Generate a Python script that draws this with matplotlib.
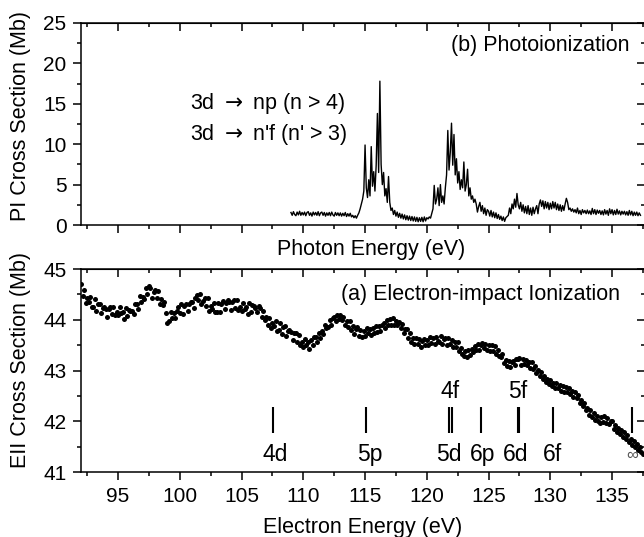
import matplotlib.pyplot as plt
import numpy as np
from matplotlib.ticker import MultipleLocator

plt.rcParams['font.family'] = ['Liberation Sans', 'DejaVu Sans']

# photoionization cross section (Mb), 0.1 eV steps from 109.0 eV
pi_start = 109.0
pi_step = 0.1
pi_values = [
    1.55, 1.20, 1.65, 1.30, 1.15, 1.60, 1.25, 1.70, 1.20, 1.55,  # 109
    1.25, 1.60, 1.15, 1.55, 1.65, 1.20, 1.50, 1.10, 1.60, 1.25,  # 110
    1.55, 1.20, 1.65, 1.15, 1.50, 1.60, 1.20, 1.55, 1.10, 1.50,  # 111
    1.20, 1.55, 1.15, 1.60, 1.25, 1.10, 1.55, 1.20, 1.50, 1.15,  # 112
    1.50, 1.10, 1.45, 1.15, 1.55, 1.05, 1.40, 1.10, 1.45, 1.00,  # 113
    1.20, 0.90, 1.15, 0.85, 1.20, 1.50, 2.00, 2.60, 3.20, 4.20,  # 114
    9.90, 4.60, 3.40, 5.60, 3.60, 9.70, 4.80, 6.60, 4.20, 7.40,  # 115
    13.80, 6.50, 17.80, 7.50, 5.00, 6.50, 3.60, 4.50, 2.80, 6.00,  # 116
    2.80, 1.80, 2.10, 1.30, 1.80, 1.10, 1.60, 0.95, 1.45, 0.85,  # 117
    1.35, 0.75, 1.25, 0.65, 1.15, 0.60, 1.10, 0.55, 1.05, 0.50,  # 118
    1.00, 0.45, 0.95, 0.40, 0.90, 0.45, 0.95, 0.40, 1.00, 0.50,  # 119
    0.90, 0.75, 1.00, 0.85, 1.40, 2.00, 4.90, 2.60, 3.20, 4.60,  # 120
    2.40, 5.00, 2.80, 3.60, 2.60, 4.60, 6.20, 11.70, 6.80, 9.00,  # 121
    12.60, 7.40, 11.20, 6.20, 8.20, 5.20, 6.60, 4.40, 5.60, 4.60,  # 122
    7.80, 4.20, 5.00, 6.90, 3.60, 4.60, 3.20, 3.60, 2.80, 3.20,  # 123
    2.60, 1.60, 2.30, 2.80, 1.70, 2.40, 1.40, 2.10, 1.20, 1.90,  # 124
    1.70, 1.10, 1.80, 1.00, 1.60, 0.90, 1.50, 0.80, 1.30, 0.70,  # 125
    1.10, 0.55, 1.00, 0.45, 0.90, 1.05, 1.20, 2.10, 1.40, 2.60,  # 126
    2.00, 3.20, 2.20, 3.90, 2.50, 2.00, 2.80, 1.70, 2.50, 1.50,  # 127
    2.30, 1.40, 2.40, 1.30, 2.10, 1.20, 2.20, 1.40, 2.00, 2.40,  # 128
    1.40, 2.60, 3.10, 2.30, 3.00, 2.00, 2.90, 2.10, 2.80, 1.90,  # 129
    2.70, 2.00, 2.90, 2.10, 2.80, 1.90, 2.60, 1.80, 2.50, 1.70,  # 130
    2.40, 1.80, 2.60, 3.30, 2.80, 1.90, 2.10, 1.70, 2.00, 1.60,  # 131
    1.90, 1.50, 2.10, 1.40, 1.80, 1.30, 1.90, 1.50, 1.80, 1.40,  # 132
    1.85, 1.40, 1.75, 1.30, 2.05, 1.40, 1.90, 1.30, 1.85, 1.45,  # 133
    1.80, 1.30, 1.75, 1.25, 1.90, 1.35, 1.80, 1.20, 2.00, 1.40,  # 134
    1.90, 1.25, 1.80, 1.30, 1.95, 1.35, 1.75, 1.25, 1.70, 1.35,  # 135
    1.70, 1.25, 1.65, 1.20, 1.80, 1.25, 1.70, 1.15, 1.60, 1.20,  # 136
    1.60, 1.15, 1.50, 1.20,                                      # 137
]

# electron-impact ionization cross section (Mb), 1/8 eV steps from 92.0 eV
eii_start = 92.0
eii_step = 0.125
eii_values = [
    44.70, 44.46, 44.59, 44.34, 44.43, 44.36, 44.45, 44.26,  # 92
    44.26, 44.40, 44.17, 44.31, 44.32, 44.14, 44.23, 44.26,  # 93
    44.21, 44.05, 44.22, 44.25, 44.11, 44.26, 44.09, 44.16,  # 94
    44.09, 44.25, 44.13, 44.16, 44.02, 44.24, 44.07, 44.20,  # 95
    44.18, 44.18, 44.11, 44.31, 44.32, 44.21, 44.46, 44.35,  # 96
    44.45, 44.41, 44.63, 44.51, 44.67, 44.62, 44.42, 44.55,  # 97
    44.58, 44.42, 44.56, 44.31, 44.41, 44.30, 44.36, 44.13,  # 98
    43.94, 43.98, 44.15, 44.04, 44.13, 44.03, 44.17, 44.26,  # 99
    44.14, 44.31, 44.11, 44.28, 44.32, 44.18, 44.31, 44.36,  # 100
    44.35, 44.23, 44.43, 44.49, 44.38, 44.51, 44.32, 44.37,  # 101
    44.43, 44.27, 44.42, 44.17, 44.28, 44.22, 44.33, 44.15,  # 102
    44.16, 44.34, 44.15, 44.32, 44.37, 44.22, 44.33, 44.38,  # 103
    44.35, 44.19, 44.36, 44.38, 44.24, 44.38, 44.20, 44.26,  # 104
    44.17, 44.33, 44.22, 44.26, 44.12, 44.34, 44.16, 44.29,  # 105
    44.27, 44.24, 44.15, 44.27, 44.23, 44.06, 44.18, 43.99,  # 106
    44.06, 43.90, 44.04, 43.83, 43.93, 43.87, 43.97, 43.78,  # 107
    43.79, 43.93, 43.72, 43.86, 43.88, 43.69, 43.78, 43.80,  # 108
    43.75, 43.60, 43.73, 43.74, 43.57, 43.70, 43.50, 43.57,  # 109
    43.47, 43.63, 43.51, 43.56, 43.42, 43.60, 43.50, 43.66,  # 110
    43.66, 43.57, 43.74, 43.64, 43.77, 43.71, 43.89, 43.83,  # 111
    43.85, 43.99, 43.90, 44.04, 44.05, 43.98, 44.10, 44.01,  # 112
    44.10, 44.00, 44.06, 43.90, 43.98, 43.86, 43.97, 43.80,  # 113
    43.88, 43.72, 43.81, 43.85, 43.69, 43.80, 43.66, 43.78,  # 114
    43.69, 43.84, 43.73, 43.82, 43.70, 43.84, 43.74, 43.87,  # 115
    43.75, 43.88, 43.78, 43.89, 43.93, 43.84, 44.00, 43.90,  # 116
    44.01, 43.90, 44.03, 43.89, 43.98, 43.90, 43.96, 43.83,  # 117
    43.91, 43.73, 43.82, 43.82, 43.64, 43.73, 43.56, 43.65,  # 118
    43.52, 43.65, 43.52, 43.62, 43.47, 43.59, 43.63, 43.51,  # 119
    43.61, 43.50, 43.66, 43.55, 43.64, 43.52, 43.66, 43.58,  # 120
    43.56, 43.68, 43.53, 43.63, 43.64, 43.51, 43.65, 43.52,  # 121
    43.61, 43.47, 43.56, 43.46, 43.56, 43.39, 43.45, 43.32,  # 122
    43.29, 43.39, 43.27, 43.41, 43.31, 43.43, 43.36, 43.48,  # 123
    43.41, 43.52, 43.40, 43.51, 43.54, 43.44, 43.53, 43.41,  # 124
    43.50, 43.39, 43.50, 43.39, 43.48, 43.33, 43.40, 43.29,  # 125
    43.26, 43.32, 43.15, 43.21, 43.08, 43.18, 43.06, 43.16,  # 126
    43.18, 43.10, 43.23, 43.23, 43.24, 43.11, 43.23, 43.12,  # 127
    43.21, 43.10, 43.17, 43.05, 43.16, 43.03, 43.08, 42.95,  # 128
    43.02, 42.89, 42.97, 42.84, 42.89, 42.77, 42.84, 42.74,  # 129
    42.81, 42.70, 42.76, 42.65, 42.76, 42.65, 42.72, 42.60,  # 130
    42.69, 42.58, 42.68, 42.57, 42.66, 42.54, 42.60, 42.48,  # 131
    42.58, 42.45, 42.51, 42.36, 42.42, 42.30, 42.36, 42.22,  # 132
    42.26, 42.13, 42.22, 42.09, 42.16, 42.02, 42.10, 42.00,  # 133
    41.96, 42.08, 41.98, 42.10, 41.96, 42.06, 41.95, 42.01,  # 134
    42.01, 41.85, 41.92, 41.78, 41.86, 41.74, 41.82, 41.70,  # 135
    41.78, 41.66, 41.73, 41.59, 41.66, 41.53, 41.62, 41.49,  # 136
    41.55, 41.43, 41.50, 41.40, 41.36,                      # 137
]

# Rydberg level markers (eV)
level_energies = [107.55, 115.08, 121.82, 122.02, 124.42, 127.36, 127.46, 130.22, 136.62]
lower_labels = ['4d', '5p', '5d', '6p', '6d', '6f']
lower_label_x = [107.7, 115.35, 121.75, 124.5, 127.2, 130.2]
upper_labels = ['4f', '5f']
upper_label_x = [121.9, 127.4]

pi_energy = pi_start + pi_step * np.arange(len(pi_values))
eii_energy = eii_start + eii_step * np.arange(len(eii_values))

fs = 15
fig = plt.figure(figsize=(6.44, 5.37), dpi=100)
ax_pi = fig.add_axes([0.1258, 0.5810, 0.8758, 0.3762])
ax_eii = fig.add_axes([0.1258, 0.1210, 0.8758, 0.3780])

for ax in (ax_pi, ax_eii):
    ax.set_xlim(92.0, 137.67)
    ax.xaxis.set_major_locator(MultipleLocator(5))
    ax.xaxis.set_minor_locator(MultipleLocator(2.5))
    ax.tick_params(which='both', direction='out', top=False, right=False,
                   width=1.1, labelsize=fs)
    ax.tick_params(which='major', length=6)
    ax.tick_params(which='minor', length=3.2)
    ax.tick_params(axis='x', pad=5)
    ax.tick_params(axis='y', pad=4.5)
    for s in ax.spines.values():
        s.set_linewidth(1.1)
    top = ax.secondary_xaxis('top')
    top.xaxis.set_major_locator(MultipleLocator(5))
    top.xaxis.set_minor_locator(MultipleLocator(2.5))
    top.tick_params(which='both', direction='in', labeltop=False, width=1.1)
    top.tick_params(which='major', length=6)
    top.tick_params(which='minor', length=3.2)
    right = ax.secondary_yaxis('right')
    right.tick_params(which='both', direction='in', labelright=False, width=1.1)
    right.tick_params(which='major', length=6)
    right.tick_params(which='minor', length=3.2)
    ax._right = right

# (b) photoionization
ax_pi.plot(pi_energy, pi_values, color='black', lw=1.0)
ax_pi.set_ylim(0, 25)
ax_pi.yaxis.set_major_locator(MultipleLocator(5))
ax_pi.yaxis.set_minor_locator(MultipleLocator(2.5))
ax_pi._right.yaxis.set_major_locator(MultipleLocator(5))
ax_pi._right.yaxis.set_minor_locator(MultipleLocator(2.5))
ax_pi.set_xticklabels([])
ax_pi.set_xlabel('Photon Energy (eV)', fontsize=15.5)
ax_pi.xaxis.set_label_coords(0.515, -0.07)
ax_pi.set_ylabel('PI Cross Section (Mb)', fontsize=15.5)
ax_pi.yaxis.set_label_coords(-0.088, 0.54)
ax_pi.text(0.972, 0.891, '(b) Photoionization', transform=ax_pi.transAxes,
           ha='right', va='center', fontsize=15.5)
ax_pi.text(0.194, 0.599, r'3d $\rightarrow$ np (n > 4)', transform=ax_pi.transAxes,
           ha='left', va='center', fontsize=15.5)
ax_pi.text(0.194, 0.450, r"3d $\rightarrow$ n'f (n' > 3)", transform=ax_pi.transAxes,
           ha='left', va='center', fontsize=15.5)

# (a) electron-impact ionization
ax_eii.plot(eii_energy, eii_values, 'o', color='black', ms=3.6, mew=0)
ax_eii.set_ylim(41, 45)
ax_eii.yaxis.set_major_locator(MultipleLocator(1))
ax_eii.yaxis.set_minor_locator(MultipleLocator(0.5))
ax_eii._right.yaxis.set_major_locator(MultipleLocator(1))
ax_eii._right.yaxis.set_minor_locator(MultipleLocator(0.5))
ax_eii.set_xlabel('Electron Energy (eV)', fontsize=15.5, labelpad=8)
ax_eii.set_ylabel('EII Cross Section (Mb)', fontsize=15.5)
ax_eii.yaxis.set_label_coords(-0.088, 0.55)
ax_eii.text(135.66, 44.49, '(a) Electron-impact Ionization',
            ha='right', va='center', fontsize=15.5)

ax_eii.vlines(level_energies, 41.77, 42.29, color='black', lw=1.5)
for lab, x in zip(lower_labels, lower_label_x):
    ax_eii.text(x, 41.34, lab, ha='center', va='center', fontsize=16.5)
for lab, x in zip(upper_labels, upper_label_x):
    ax_eii.text(x, 42.58, lab, ha='center', va='center', fontsize=16.5)
ax_eii.text(136.6, 41.32, '\u221e', ha='center', va='center', fontsize=12,
            color='#555555')

fig.savefig('out.png', dpi=100)
